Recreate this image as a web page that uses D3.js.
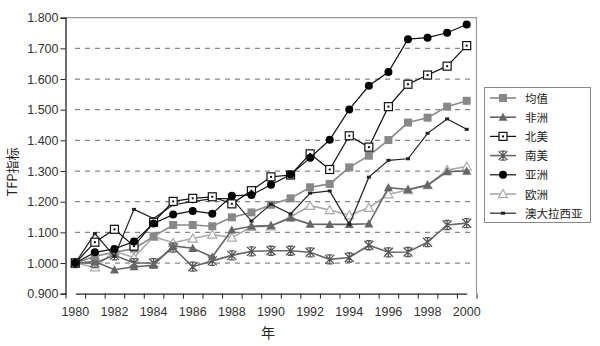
<!DOCTYPE html>
<html><head><meta charset="utf-8">
<script src="https://cdn.jsdelivr.net/npm/d3@7"></script>
<style>body{margin:0;background:#fff}svg{display:block}</style>
</head><body><svg id="c" width="600" height="346"></svg>
<script>
const years = d3.range(1980, 2001);
const yTicks = [0.9,1.0,1.1,1.2,1.3,1.4,1.5,1.6,1.7,1.8];
const xTickLabels = [1980,1982,1984,1986,1988,1990,1992,1994,1996,1998,2000];
const seriesNames = ["均值","非洲","北美","南美","亚洲","欧洲","澳大拉西亚"];
const mean      = [1.000,1.022,1.035,1.047,1.087,1.124,1.124,1.120,1.149,1.165,1.190,1.211,1.247,1.258,1.312,1.350,1.401,1.458,1.474,1.510,1.529];
const africa    = [1.000,1.005,0.978,0.988,0.993,1.056,1.048,1.020,1.108,1.120,1.122,1.147,1.127,1.126,1.126,1.128,1.246,1.240,1.254,1.298,1.300];
const northAm   = [1.000,1.068,1.110,1.055,1.133,1.201,1.211,1.216,1.193,1.236,1.281,1.287,1.356,1.305,1.415,1.378,1.510,1.583,1.613,1.642,1.709];
const southAm   = [1.000,1.000,1.025,1.000,1.000,1.050,0.988,1.007,1.025,1.038,1.040,1.040,1.035,1.012,1.018,1.058,1.035,1.036,1.068,1.124,1.130];
const asia      = [1.000,1.035,1.046,1.070,1.129,1.158,1.170,1.161,1.219,1.222,1.255,1.289,1.343,1.402,1.501,1.578,1.623,1.730,1.735,1.751,1.778];
const europe    = [1.000,0.986,1.038,1.018,1.086,1.066,1.080,1.093,1.083,1.118,1.120,1.150,1.187,1.173,1.156,1.180,1.224,1.238,1.254,1.303,1.315];
const australasia=[1.000,1.096,1.022,1.175,1.145,1.190,1.200,1.210,1.210,1.137,1.192,1.160,1.228,1.235,1.126,1.280,1.335,1.340,1.423,1.470,1.436];

const styles = [
  {data:mean, color:"#888", lw:1.6, marker:"square", fill:"#888", stroke:"#888", size:8},
  {data:africa, color:"#666", lw:1.6, marker:"triangle", fill:"#666", stroke:"#666", size:9},
  {data:northAm, color:"#111", lw:1.2, marker:"osquare", fill:"#fff", stroke:"#111", size:8},
  {data:southAm, color:"#666", lw:1.6, marker:"asterisk", fill:"none", stroke:"#555", size:9},
  {data:asia, color:"#111", lw:1.2, marker:"circle", fill:"#000", stroke:"#000", size:8},
  {data:europe, color:"#aaa", lw:1.6, marker:"otriangle", fill:"#fff", stroke:"#aaa", size:9},
  {data:australasia, color:"#222", lw:1.2, marker:"dash", fill:"#222", stroke:"#222", size:4}
];

const svg = d3.select("#c");
const x = d3.scaleLinear().domain([1980,2000]).range([75.3,466.7]);
const y = d3.scaleLinear().domain([0.9,1.8]).range([293.7,17.7]);
const xL = x(1979.5), xR = x(2000.5);

// grid
svg.append("g").selectAll("line").data(yTicks.filter(v=>v>0.9 && v<1.8)).join("line")
  .attr("x1", 75).attr("x2", xR-2).attr("y1", d=>y(d)).attr("y2", d=>y(d))
  .attr("stroke","#888").attr("stroke-width",1.3).attr("stroke-dasharray","5,5");
// border top/right
svg.append("path").attr("d",`M${xL},${y(1.8)}H${xR}V${y(0.9)}`).attr("fill","none").attr("stroke","#999").attr("stroke-width",1.2);

// y axis
const yAxis = d3.axisLeft(y).tickValues(yTicks).tickFormat(d3.format(".3f")).tickSize(5);
const gy = svg.append("g").attr("transform",`translate(${xL},0)`).call(yAxis);
gy.select(".domain").attr("stroke","#222").attr("stroke-width",1.3);
gy.selectAll(".tick line").attr("stroke","#222");
gy.selectAll("text").attr("font-family","Liberation Sans, Arial, sans-serif").attr("font-size",12.5).attr("fill","#333").attr("x",-7);

// x axis
const gx = svg.append("g").attr("transform",`translate(0,${y(0.9)})`)
  .call(d3.axisBottom(x).tickValues(d3.range(1979.5,2001,1)).tickFormat("").tickSize(5).tickSizeOuter(0));
gx.select(".domain").attr("stroke","#222").attr("stroke-width",1.3);
gx.selectAll(".tick line").attr("stroke","#222");
svg.append("g").selectAll("text").data(xTickLabels).join("text")
  .attr("x",d=>x(d)).attr("y",316).attr("text-anchor","middle")
  .attr("font-family","Liberation Sans, Arial, sans-serif").attr("font-size",12.5).attr("fill","#333").text(d=>d);

svg.append("text").attr("x",268).attr("y",338).attr("text-anchor","middle")
  .attr("font-family","Noto Sans CJK SC").attr("font-size",14).attr("fill","#222").text("年");
svg.append("text").attr("transform","translate(17,172) rotate(-90)").attr("text-anchor","middle")
  .attr("font-family","Noto Sans CJK SC, Liberation Sans").attr("font-size",13).attr("fill","#222").text("TFP指标");

function drawMarker(g, s, cx, cy){
  const r = s.size/2;
  if(s.marker==="square"){
    g.append("rect").attr("x",cx-r).attr("y",cy-r).attr("width",s.size).attr("height",s.size).attr("fill",s.fill);
  } else if(s.marker==="osquare"){
    g.append("rect").attr("x",cx-r).attr("y",cy-r).attr("width",s.size).attr("height",s.size).attr("fill","#fff").attr("stroke",s.stroke).attr("stroke-width",1.2);
    g.append("rect").attr("x",cx-1).attr("y",cy-1).attr("width",2).attr("height",2).attr("fill",s.stroke);
  } else if(s.marker==="circle"){
    g.append("circle").attr("cx",cx).attr("cy",cy).attr("r",r).attr("fill",s.fill);
  } else if(s.marker==="triangle"){
    g.append("path").attr("d",`M${cx},${cy-r}L${cx+r},${cy+r*0.8}L${cx-r},${cy+r*0.8}Z`).attr("fill",s.fill);
  } else if(s.marker==="otriangle"){
    g.append("path").attr("d",`M${cx},${cy-r}L${cx+r},${cy+r*0.8}L${cx-r},${cy+r*0.8}Z`).attr("fill","#fff").attr("stroke",s.stroke).attr("stroke-width",1.2);
  } else if(s.marker==="asterisk"){
    g.append("path").attr("d",`M${cx-r},${cy-r}L${cx+r},${cy+r}M${cx-r},${cy+r}L${cx+r},${cy-r}M${cx},${cy-r}V${cy+r}M${cx-r*0.6},${cy-r}H${cx+r*0.6}M${cx-r*0.6},${cy+r}H${cx+r*0.6}`)
      .attr("stroke",s.stroke).attr("stroke-width",1.3).attr("fill","none");
  } else if(s.marker==="dash"){
    g.append("rect").attr("x",cx-2).attr("y",cy-1.5).attr("width",4).attr("height",3).attr("fill",s.fill);
  }
}

const line = d3.line().x((d,i)=>x(years[i])).y(d=>y(d));
const order = [5,3,1,0,6,2,4];
order.forEach(k=>{
  const s = styles[k];
  const g = svg.append("g");
  g.append("path").attr("d",line(s.data)).attr("fill","none").attr("stroke",s.color).attr("stroke-width",s.lw);
  s.data.forEach((v,i)=>drawMarker(g,s,x(years[i]),y(v)));
});

// legend
const lg = svg.append("g");
lg.append("rect").attr("x",484.5).attr("y",87.5).attr("width",106).attr("height",135).attr("fill","#fff").attr("stroke","#888");
seriesNames.forEach((n,i)=>{
  const s = styles[i];
  const cy = 98 + i*19.2;
  lg.append("line").attr("x1",490).attr("x2",516).attr("y1",cy).attr("y2",cy).attr("stroke",s.color).attr("stroke-width",s.lw);
  drawMarker(lg, s, 503, cy);
  lg.append("text").attr("x",525).attr("y",cy+4.5).attr("font-family","Noto Sans CJK SC").attr("font-size",11.5).attr("fill","#222").text(n);
});
</script></body></html>
